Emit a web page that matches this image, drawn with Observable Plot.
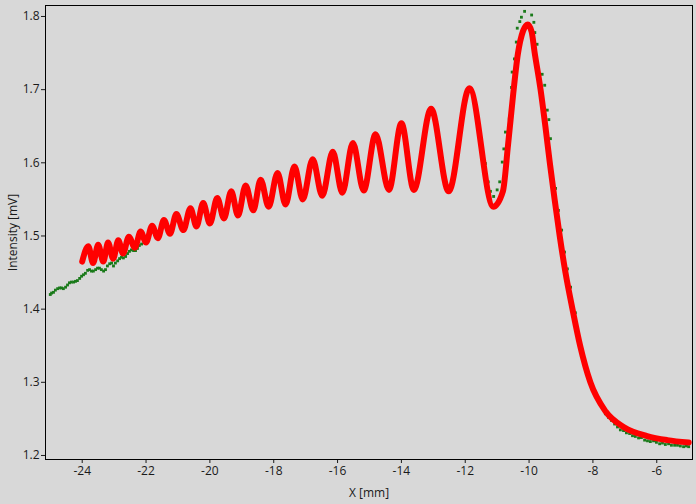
<!DOCTYPE html>
<html><head><meta charset="utf-8">
<script src="https://cdn.jsdelivr.net/npm/d3@7"></script>
<script src="https://cdn.jsdelivr.net/npm/@observablehq/plot@0.6"></script>
<style>
html,body{margin:0;padding:0;background:#d8d8d8;}
</style></head><body><div id="chart"></div>
<script>
// Fit curve (red)
const fitX = [-24.00,-23.81,-23.66,-23.50,-23.34,-23.19,-23.03,-22.87,-22.72,-22.54,-22.35,-22.17,-22.00,-21.81,-21.63,-21.44,-21.25,-21.05,-20.83,-20.61,-20.42,-20.21,-20.00,-19.77,-19.56,-19.33,-19.12,-18.88,-18.64,-18.41,-18.16,-17.88,-17.63,-17.35,-17.09,-16.78,-16.48,-16.15,-15.85,-15.52,-15.18,-14.81,-14.39,-14.00,-13.61,-13.07,-12.52,-11.87,-11.12,-10.82,-10.66,-10.50,-10.35,-10.19,-10.04,-9.92,-9.83,-9.64,-9.49,-9.35,-9.20,-9.04,-8.86,-8.64,-8.40,-8.08,-7.60,-7.04,-6.30,-5.67,-5.00];
const fitY = [1.465,1.486,1.463,1.488,1.465,1.491,1.469,1.494,1.476,1.499,1.484,1.506,1.491,1.514,1.497,1.522,1.503,1.530,1.508,1.538,1.513,1.545,1.517,1.552,1.524,1.561,1.528,1.569,1.535,1.577,1.540,1.586,1.543,1.595,1.550,1.605,1.555,1.615,1.559,1.627,1.562,1.639,1.563,1.654,1.563,1.674,1.561,1.702,1.540,1.561,1.624,1.693,1.749,1.780,1.789,1.779,1.752,1.700,1.650,1.600,1.550,1.500,1.450,1.400,1.350,1.300,1.260,1.239,1.2265,1.221,1.2177];

// Measured points (green)
const measLeftX = [-25.00,-24.96,-24.90,-24.84,-24.77,-24.71,-24.65,-24.59,-24.52,-24.46,-24.40,-24.34,-24.27,-24.21,-24.15,-24.08,-24.02,-23.96,-23.90,-23.83,-23.77,-23.71,-23.65,-23.58,-23.52,-23.46,-23.40,-23.33,-23.27,-23.21,-23.14,-23.08,-23.02,-22.96,-22.89,-22.83,-22.77,-22.71,-22.64,-22.58,-22.52,-22.46,-22.39,-22.33,-22.27,-22.21,-22.14];
const measLeftY = [1.420,1.422,1.423,1.426,1.428,1.429,1.429,1.428,1.430,1.433,1.436,1.437,1.437,1.438,1.439,1.442,1.445,1.447,1.449,1.453,1.454,1.452,1.452,1.454,1.456,1.456,1.454,1.452,1.454,1.459,1.462,1.463,1.459,1.463,1.466,1.469,1.471,1.470,1.472,1.476,1.479,1.481,1.480,1.480,1.483,1.487,1.489];
const measMidX = [-22.08,-21.81,-21.63,-21.44,-21.25,-21.05,-20.83,-20.61,-20.42,-20.21,-20.00,-19.77,-19.56,-19.33,-19.12,-18.88,-18.64,-18.41,-18.16,-17.88,-17.63,-17.35,-17.09,-16.78,-16.48,-16.15,-15.85,-15.52,-15.18,-14.81,-14.39,-14.00,-13.61,-13.07,-12.52,-11.87];
const measMidY = [1.497,1.512,1.499,1.520,1.505,1.528,1.510,1.536,1.515,1.543,1.519,1.550,1.526,1.558,1.530,1.567,1.537,1.575,1.542,1.584,1.545,1.593,1.552,1.603,1.557,1.613,1.561,1.625,1.564,1.637,1.565,1.652,1.565,1.672,1.563,1.700];
const measPeakX = [-11.37,-11.28,-11.21,-11.11,-11.00,-10.92,-10.84,-10.79,-10.74,-10.62,-10.55,-10.53,-10.46,-10.40,-10.37,-10.29,-10.24,-10.14,-9.92,-9.85,-9.82,-9.75,-9.59,-9.51,-9.43,-9.38,-9.33,-9.17,-9.08,-8.98,-8.89,-8.80,-8.70];
const measPeakY = [1.599,1.574,1.561,1.554,1.563,1.574,1.601,1.619,1.642,1.660,1.703,1.724,1.742,1.765,1.784,1.793,1.799,1.807,1.802,1.792,1.778,1.762,1.721,1.706,1.672,1.659,1.633,1.565,1.535,1.508,1.478,1.455,1.430];
const measRightX = [-8.55,-8.45,-8.36,-8.26,-8.17,-8.08,-7.98,-7.89,-7.79,-7.70,-7.61,-7.51,-7.42,-7.32,-7.23,-7.14,-7.04,-6.95,-6.85,-6.76,-6.67,-6.57,-6.48,-6.38,-6.29,-6.20,-6.10,-6.01,-5.91,-5.82,-5.73,-5.63,-5.54,-5.44,-5.35,-5.26,-5.16,-5.07,-5.00];
const measRightY = [1.395,1.366,1.347,1.329,1.314,1.301,1.290,1.280,1.272,1.264,1.257,1.252,1.248,1.243,1.239,1.235,1.234,1.231,1.230,1.227,1.226,1.224,1.2245,1.221,1.220,1.219,1.220,1.218,1.216,1.217,1.215,1.216,1.214,1.214,1.214,1.213,1.212,1.213,1.212];

const xTicks = [-24,-22,-20,-18,-16,-14,-12,-10,-8,-6];
const yTicks = [1.2,1.3,1.4,1.5,1.6,1.7,1.8];

const fit = fitX.map((x, i) => ({x, y: fitY[i]}));
const meas = [
  ...measLeftX.map((x, i) => ({x, y: measLeftY[i]})),
  ...measMidX.map((x, i) => ({x, y: measMidY[i]})),
  ...measPeakX.map((x, i) => ({x, y: measPeakY[i]})),
  ...measRightX.map((x, i) => ({x, y: measRightY[i]}))
];

const chart = Plot.plot({
  width: 696, height: 504,
  marginLeft: 45, marginRight: 4, marginTop: 5, marginBottom: 45,
  style: {background: "#d8d8d8", fontFamily: "'Open Sans', 'Noto Sans', sans-serif", fontSize: "12px", color: "#1a1a1a"},
  x: {domain: [-25.15, -4.88], ticks: xTicks, tickSize: 4, tickPadding: 3, tickFormat: d => String(d),
      label: "X [mm]", labelAnchor: "center", labelArrow: "none", labelOffset: 37},
  y: {domain: [1.1945, 1.815], ticks: yTicks, tickSize: 4, tickPadding: 2, tickFormat: d => d.toFixed(1),
      label: "Intensity [mV]", labelAnchor: "center", labelArrow: "none", labelOffset: 37},
  marks: [
    Plot.dot(meas, {x: "x", y: "y", symbol: "square", r: 1.6, fill: "#1a7a1a", stroke: "none"}),
    Plot.line(fit, {x: "x", y: "y", stroke: "#ff0000", strokeWidth: 6, curve: "monotone-x"}),
    Plot.frame({stroke: "#000", strokeWidth: 1})
  ]
});
document.getElementById("chart").appendChild(chart);
</script>
</body></html>
